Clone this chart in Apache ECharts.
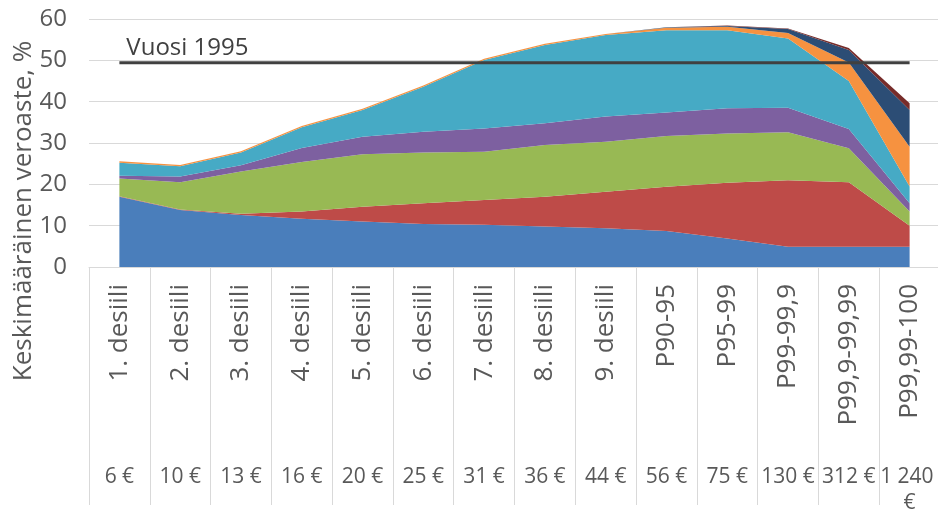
<!DOCTYPE html>
<html>
<head>
<meta charset="utf-8">
<script src="https://cdn.jsdelivr.net/npm/echarts@6/dist/echarts.min.js"></script>
<style>
  html, body { margin: 0; padding: 0; background: #fff; }
  #chart { width: 938px; height: 509px; }
</style>
</head>
<body>
<div id="chart"></div>
<script>
// luokat ja tulotasot
const categories = ['1. desiili', '2. desiili', '3. desiili', '4. desiili', '5. desiili', '6. desiili', '7. desiili',
  '8. desiili', '9. desiili', 'P90-95', 'P95-99', 'P99-99,9', 'P99,9-99,99', 'P99,99-100']
const incomes = ['6 €', '10 €', '13 €', '16 €', '20 €', '25 €', '31 €', '36 €', '44 €', '56 €', '75 €', '130 €', '312 €', '1 240 €']
const yTicks = [0, 10, 20, 30, 40, 50, 60]

// pinotut osuudet, %
const osa1 = [17.0, 13.8, 12.6, 11.7, 11.0, 10.4, 10.2, 9.8, 9.4, 8.7, 6.9, 4.9, 4.9, 4.9]
const osa2 = [0.1, 0.1, 0.3, 1.7, 3.6, 5.0, 6.0, 7.2, 8.8, 10.7, 13.5, 16.1, 15.6, 5.1]
const osa3 = [4.3, 6.6, 10.2, 12.0, 12.7, 12.3, 11.7, 12.5, 12.1, 12.3, 11.9, 11.6, 8.2, 3.4]
const osa4 = [0.7, 1.4, 1.5, 3.4, 4.2, 5.0, 5.6, 5.3, 6.1, 5.7, 6.1, 5.9, 4.7, 2.0]
const osa5 = [3.1, 2.5, 3.1, 5.0, 6.5, 10.9, 16.6, 18.9, 19.7, 19.9, 18.9, 16.8, 11.6, 4.1]
const osa6 = [0.4, 0.3, 0.3, 0.3, 0.3, 0.3, 0.3, 0.3, 0.3, 0.6, 0.8, 1.3, 4.5, 9.6]
const osa7 = [0, 0, 0, 0, 0, 0, 0, 0, 0, 0.1, 0.2, 1.0, 3.0, 8.9]
const osa8 = [0, 0, 0, 0, 0, 0, 0, 0, 0, 0, 0.1, 0.1, 0.5, 1.6]
const vuosi1995 = [49.4, 49.4, 49.4, 49.4, 49.4, 49.4, 49.4, 49.4, 49.4, 49.4, 49.4, 49.4, 49.4, 49.4]

const osat = [osa1, osa2, osa3, osa4, osa5, osa6, osa7, osa8]
const colors = ['#4A7EBB', '#BE4B48', '#98B954', '#7D60A0', '#46AAC5', '#F69240', '#2C4D75', '#772C2A']
const font = 'Open Sans'
const textColor = '#595959'

let myChart = echarts.init(document.getElementById('chart'), null, { renderer: 'canvas' })

let series = osat.map(function (d, i) {
  return {
    name: 'Osa ' + (i + 1),
    type: 'line',
    stack: 'yhteensa',
    data: d,
    showSymbol: false,
    lineStyle: { width: 0 },
    areaStyle: { color: colors[i], opacity: 1 },
    itemStyle: { color: colors[i] },
    z: 2
  }
})

// vuoden 1995 taso
series.push({
  name: 'Vuosi 1995',
  type: 'line',
  data: vuosi1995.map(function (v, i) {
    return i === 0 ? { value: v, label: { show: true } } : v
  }),
  symbol: 'circle',
  symbolSize: 0,
  lineStyle: { color: '#404040', width: 3 },
  itemStyle: { color: '#404040' },
  label: {
    show: false,
    position: 'top',
    distance: 3,
    offset: [68, 0],
    formatter: '{a}',
    fontFamily: font,
    fontSize: 24,
    color: '#404040'
  },
  z: 5
})

myChart.setOption({
  animation: false,
  grid: { left: 89, top: 19, width: 851, height: 248, outerBoundsMode: 'none', containLabel: false },
  xAxis: [
    {
      type: 'category',
      data: categories,
      boundaryGap: true,
      axisLine: { show: true, lineStyle: { color: '#D9D9D9', width: 1 } },
      axisTick: { show: true, interval: 0, length: 238, lineStyle: { color: '#D9D9D9', width: 1 } },
      axisLabel: {
        interval: 0,
        rotate: 90,
        margin: 17,
        fontFamily: font,
        fontSize: 26,
        color: textColor
      }
    },
    {
      type: 'category',
      data: incomes,
      position: 'bottom',
      offset: 190,
      axisLine: { show: false },
      axisTick: { show: false },
      axisLabel: {
        interval: 0,
        margin: 7,
        fontFamily: font,
        fontSize: 21,
        color: textColor,
        width: 68,
        overflow: 'break',
        lineHeight: 26
      }
    }
  ],
  yAxis: {
    type: 'value',
    min: yTicks[0],
    max: yTicks[yTicks.length - 1],
    interval: 10,
    name: 'Keskimääräinen veroaste, %',
    nameLocation: 'middle',
    nameGap: 52,
    nameMoveOverlap: false,
    nameTextStyle: {
      fontFamily: font,
      fontSize: 26,
      color: textColor,
      padding: [0, 136, 0, 0]
    },
    axisLine: { show: false },
    axisTick: { show: false },
    axisLabel: { margin: 22, fontFamily: font, fontSize: 24, color: textColor },
    splitLine: { lineStyle: { color: '#D9D9D9', width: 1 } }
  },
  series: series
})
</script>
</body>
</html>
